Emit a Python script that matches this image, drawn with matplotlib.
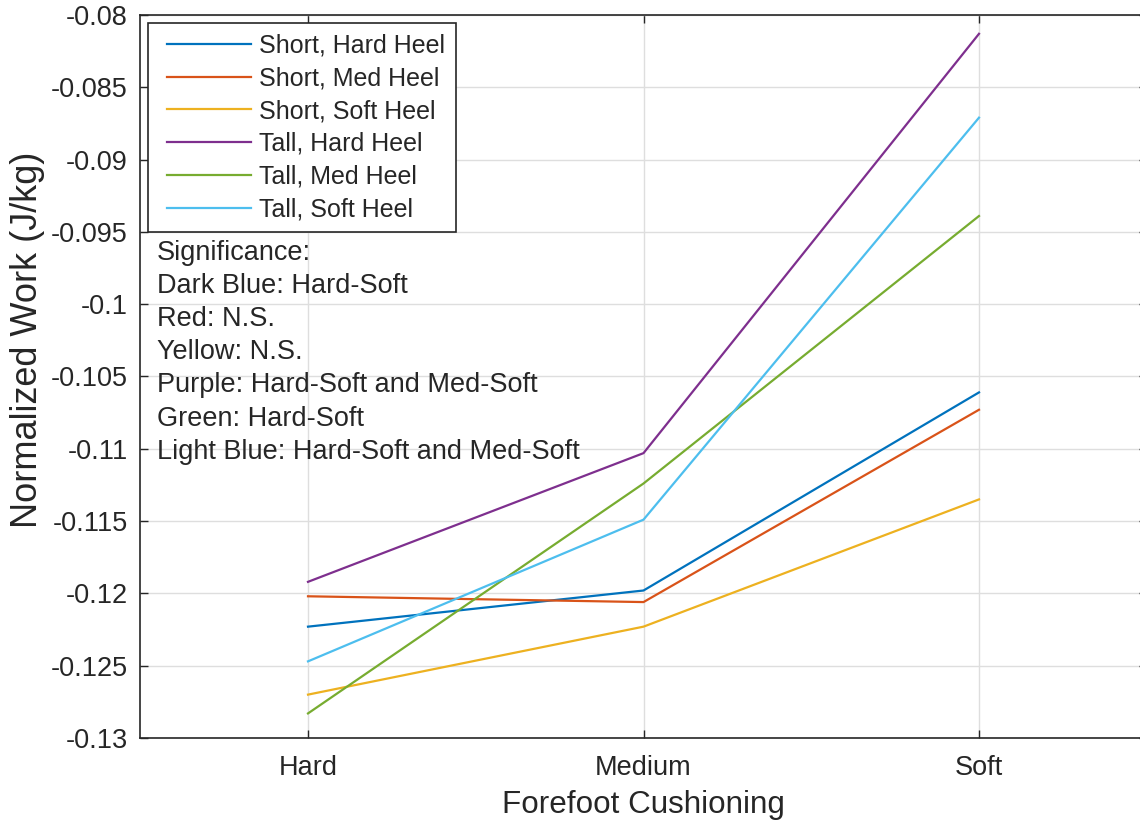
import matplotlib
matplotlib.use("Agg")
import numpy as np
import matplotlib.pyplot as plt
from matplotlib.legend_handler import HandlerLine2D
from matplotlib.lines import Line2D

plt.rcParams['font.family'] = ['Liberation Sans', 'DejaVu Sans']

categories = ["Hard", "Medium", "Soft"]
series_names = ["Short, Hard Heel", "Short, Med Heel", "Short, Soft Heel",
                "Tall, Hard Heel", "Tall, Med Heel", "Tall, Soft Heel"]
short_hard = [-0.1223, -0.1198, -0.1061]
short_med = [-0.1202, -0.1206, -0.1073]
short_soft = [-0.1270, -0.1223, -0.1135]
tall_hard = [-0.1192, -0.1103, -0.0813]
tall_med = [-0.1283, -0.1124, -0.0939]
tall_soft = [-0.1247, -0.1149, -0.0871]
series_values = [short_hard, short_med, short_soft, tall_hard, tall_med, tall_soft]
colors = ["#0072BD", "#D95319", "#EDB120", "#7E2F8E", "#77AC30", "#4DBEEE"]
yticks = [-0.13, -0.125, -0.12, -0.115, -0.11, -0.105, -0.1, -0.095, -0.09, -0.085, -0.08]
ytick_labels = ["-0.13", "-0.125", "-0.12", "-0.115", "-0.11", "-0.105", "-0.1",
                "-0.095", "-0.09", "-0.085", "-0.08"]
annotation_lines = ["Significance:", "Dark Blue: Hard-Soft", "Red: N.S.", "Yellow: N.S.",
                    "Purple: Hard-Soft and Med-Soft", "Green: Hard-Soft",
                    "Light Blue: Hard-Soft and Med-Soft"]


class InsetLineHandler(HandlerLine2D):
    """Legend line handle with a small left inset (MATLAB-like)."""
    def __init__(self, inset=6.0, **kw):
        super().__init__(**kw)
        self.inset = inset

    def create_artists(self, legend, orig_handle, xdescent, ydescent, width,
                       height, fontsize, trans):
        artists = super().create_artists(legend, orig_handle, xdescent, ydescent,
                                         width, height, fontsize, trans)
        for a in artists:
            if isinstance(a, Line2D):
                xd = np.asarray(a.get_xdata(), dtype=float)
                if len(xd) >= 2:
                    a.set_xdata(np.linspace(xd[0] + self.inset, xd[-1], len(xd)))
        return artists


W, H = 1140, 822
fig = plt.figure(figsize=(W / 100, H / 100), dpi=100)
ax = fig.add_axes([140.25 / W, 84 / H, 1006.5 / W, 723 / H])

x = list(range(1, len(categories) + 1))
lines = []
for name, vals, c in zip(series_names, series_values, colors):
    ln, = ax.plot(x, vals, color=c, lw=1.6, label=name, zorder=3)
    lines.append(ln)

ax.set_xlim(0.5, 3.5)
ax.set_ylim(-0.13, -0.08)
ax.set_xticks(x)
ax.set_xticklabels(categories)
ax.set_yticks(yticks)
ax.set_yticklabels(ytick_labels)

ax.grid(True, color="#dedede", lw=1.0, zorder=0)
ax.set_axisbelow(True)
for s in ax.spines.values():
    s.set_color("#262626")
    s.set_linewidth(1.2)

ax.tick_params(axis='both', direction='in', length=6, width=1.0, color="#262626",
               labelcolor="#262626", labelsize=19.5, top=True, right=True)
ax.tick_params(axis='x', pad=12)
ax.tick_params(axis='y', pad=9)

ax.set_xlabel("Forefoot Cushioning", fontsize=22.6, color="#262626", labelpad=7)
ax.set_ylabel("Normalized Work (J/kg)", fontsize=26, color="#262626")
ax.yaxis.label.set_va('center')
ax.yaxis.set_label_coords((28 - 140.25) / 1006.5, (738 - 340) / 723)

handler = InsetLineHandler(inset=6.0)
leg = ax.legend(handles=lines, loc='upper left', bbox_to_anchor=(148 / W, 1 - 23 / H),
                bbox_transform=fig.transFigure, borderaxespad=0,
                fontsize=18, handlelength=3.7, handletextpad=0.32,
                labelspacing=0.352, borderpad=0.42, fancybox=False,
                framealpha=1, edgecolor="#262626",
                handler_map={Line2D: handler})
leg.get_frame().set_linewidth(1.2)
for t in leg.get_texts():
    t.set_color("#262626")

base = 260
for i, line in enumerate(annotation_lines):
    fig.text(157 / W, 1 - (base + i * 33.1) / H, line, fontsize=19.5,
             color="#262626", va='baseline', ha='left')

fig.savefig("out.png", dpi=100)
